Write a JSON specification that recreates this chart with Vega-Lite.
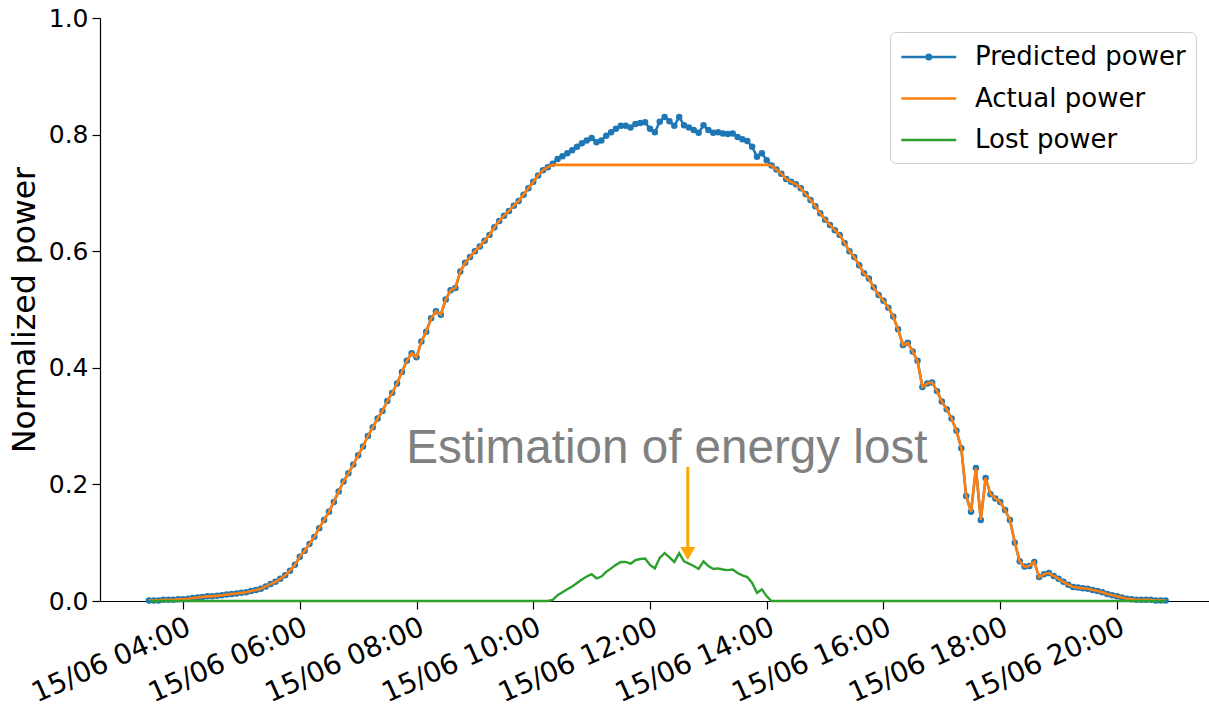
{
"$schema": "https://vega.github.io/schema/vega-lite/v6.json",
"autosize": {"type": "none"},
"padding": {"left": 100, "top": 18, "right": 0, "bottom": 107},
"width": 1109,
"height": 583,
"background": "white",
"config": {"view": {"stroke": null}, "font": "DejaVu Sans",
  "axis": {"grid": false, "domainColor": "black", "domainWidth": 1.2, "tickColor": "black", "tickWidth": 1.2, "tickSize": 8, "labelColor": "black", "labelFont": "DejaVu Sans", "titleFont": "DejaVu Sans", "titleColor": "black", "titleFontWeight": "normal"}},
"datasets": {"d": [
{"t":"2021-06-15T03:25","p":0.001,"a":0.001,"l":0},
{"t":"2021-06-15T03:30","p":0.001,"a":0.001,"l":0},
{"t":"2021-06-15T03:35","p":0.001,"a":0.001,"l":0},
{"t":"2021-06-15T03:40","p":0.002,"a":0.002,"l":0},
{"t":"2021-06-15T03:45","p":0.002,"a":0.002,"l":0},
{"t":"2021-06-15T03:50","p":0.002,"a":0.002,"l":0},
{"t":"2021-06-15T03:55","p":0.003,"a":0.003,"l":0},
{"t":"2021-06-15T04:00","p":0.003,"a":0.003,"l":0},
{"t":"2021-06-15T04:05","p":0.004,"a":0.004,"l":0},
{"t":"2021-06-15T04:10","p":0.005,"a":0.005,"l":0},
{"t":"2021-06-15T04:15","p":0.006,"a":0.006,"l":0},
{"t":"2021-06-15T04:20","p":0.007,"a":0.007,"l":0},
{"t":"2021-06-15T04:25","p":0.008,"a":0.008,"l":0},
{"t":"2021-06-15T04:30","p":0.008,"a":0.008,"l":0},
{"t":"2021-06-15T04:35","p":0.009,"a":0.009,"l":0},
{"t":"2021-06-15T04:40","p":0.010,"a":0.010,"l":0},
{"t":"2021-06-15T04:45","p":0.011,"a":0.011,"l":0},
{"t":"2021-06-15T04:50","p":0.012,"a":0.012,"l":0},
{"t":"2021-06-15T04:55","p":0.013,"a":0.013,"l":0},
{"t":"2021-06-15T05:00","p":0.014,"a":0.014,"l":0},
{"t":"2021-06-15T05:05","p":0.015,"a":0.015,"l":0},
{"t":"2021-06-15T05:10","p":0.017,"a":0.017,"l":0},
{"t":"2021-06-15T05:15","p":0.019,"a":0.019,"l":0},
{"t":"2021-06-15T05:20","p":0.021,"a":0.021,"l":0},
{"t":"2021-06-15T05:25","p":0.025,"a":0.025,"l":0},
{"t":"2021-06-15T05:30","p":0.029,"a":0.029,"l":0},
{"t":"2021-06-15T05:35","p":0.033,"a":0.033,"l":0},
{"t":"2021-06-15T05:40","p":0.038,"a":0.038,"l":0},
{"t":"2021-06-15T05:45","p":0.044,"a":0.044,"l":0},
{"t":"2021-06-15T05:50","p":0.052,"a":0.052,"l":0},
{"t":"2021-06-15T05:55","p":0.062,"a":0.062,"l":0},
{"t":"2021-06-15T06:00","p":0.076,"a":0.076,"l":0},
{"t":"2021-06-15T06:05","p":0.086,"a":0.086,"l":0},
{"t":"2021-06-15T06:10","p":0.098,"a":0.098,"l":0},
{"t":"2021-06-15T06:15","p":0.110,"a":0.110,"l":0},
{"t":"2021-06-15T06:20","p":0.125,"a":0.125,"l":0},
{"t":"2021-06-15T06:25","p":0.139,"a":0.139,"l":0},
{"t":"2021-06-15T06:30","p":0.153,"a":0.153,"l":0},
{"t":"2021-06-15T06:35","p":0.170,"a":0.170,"l":0},
{"t":"2021-06-15T06:40","p":0.188,"a":0.188,"l":0},
{"t":"2021-06-15T06:45","p":0.205,"a":0.205,"l":0},
{"t":"2021-06-15T06:50","p":0.219,"a":0.219,"l":0},
{"t":"2021-06-15T06:55","p":0.234,"a":0.234,"l":0},
{"t":"2021-06-15T07:00","p":0.250,"a":0.250,"l":0},
{"t":"2021-06-15T07:05","p":0.265,"a":0.265,"l":0},
{"t":"2021-06-15T07:10","p":0.283,"a":0.283,"l":0},
{"t":"2021-06-15T07:15","p":0.298,"a":0.298,"l":0},
{"t":"2021-06-15T07:20","p":0.313,"a":0.313,"l":0},
{"t":"2021-06-15T07:25","p":0.326,"a":0.326,"l":0},
{"t":"2021-06-15T07:30","p":0.343,"a":0.343,"l":0},
{"t":"2021-06-15T07:35","p":0.357,"a":0.357,"l":0},
{"t":"2021-06-15T07:40","p":0.373,"a":0.373,"l":0},
{"t":"2021-06-15T07:45","p":0.393,"a":0.393,"l":0},
{"t":"2021-06-15T07:50","p":0.412,"a":0.412,"l":0},
{"t":"2021-06-15T07:55","p":0.425,"a":0.425,"l":0},
{"t":"2021-06-15T08:00","p":0.418,"a":0.418,"l":0},
{"t":"2021-06-15T08:05","p":0.445,"a":0.445,"l":0},
{"t":"2021-06-15T08:10","p":0.462,"a":0.462,"l":0},
{"t":"2021-06-15T08:15","p":0.485,"a":0.485,"l":0},
{"t":"2021-06-15T08:20","p":0.497,"a":0.497,"l":0},
{"t":"2021-06-15T08:25","p":0.491,"a":0.491,"l":0},
{"t":"2021-06-15T08:30","p":0.517,"a":0.517,"l":0},
{"t":"2021-06-15T08:35","p":0.533,"a":0.533,"l":0},
{"t":"2021-06-15T08:40","p":0.537,"a":0.537,"l":0},
{"t":"2021-06-15T08:45","p":0.565,"a":0.565,"l":0},
{"t":"2021-06-15T08:50","p":0.580,"a":0.580,"l":0},
{"t":"2021-06-15T08:55","p":0.590,"a":0.590,"l":0},
{"t":"2021-06-15T09:00","p":0.600,"a":0.600,"l":0},
{"t":"2021-06-15T09:05","p":0.608,"a":0.608,"l":0},
{"t":"2021-06-15T09:10","p":0.618,"a":0.618,"l":0},
{"t":"2021-06-15T09:15","p":0.628,"a":0.628,"l":0},
{"t":"2021-06-15T09:20","p":0.641,"a":0.641,"l":0},
{"t":"2021-06-15T09:25","p":0.652,"a":0.652,"l":0},
{"t":"2021-06-15T09:30","p":0.661,"a":0.661,"l":0},
{"t":"2021-06-15T09:35","p":0.669,"a":0.669,"l":0},
{"t":"2021-06-15T09:40","p":0.678,"a":0.678,"l":0},
{"t":"2021-06-15T09:45","p":0.686,"a":0.686,"l":0},
{"t":"2021-06-15T09:50","p":0.697,"a":0.697,"l":0},
{"t":"2021-06-15T09:55","p":0.708,"a":0.708,"l":0},
{"t":"2021-06-15T10:00","p":0.719,"a":0.719,"l":0},
{"t":"2021-06-15T10:05","p":0.730,"a":0.730,"l":0},
{"t":"2021-06-15T10:10","p":0.739,"a":0.739,"l":0},
{"t":"2021-06-15T10:15","p":0.744,"a":0.744,"l":0},
{"t":"2021-06-15T10:20","p":0.750,"a":0.748,"l":0.002},
{"t":"2021-06-15T10:25","p":0.758,"a":0.748,"l":0.010},
{"t":"2021-06-15T10:30","p":0.763,"a":0.748,"l":0.015},
{"t":"2021-06-15T10:35","p":0.768,"a":0.748,"l":0.020},
{"t":"2021-06-15T10:40","p":0.773,"a":0.748,"l":0.025},
{"t":"2021-06-15T10:45","p":0.779,"a":0.748,"l":0.031},
{"t":"2021-06-15T10:50","p":0.785,"a":0.748,"l":0.037},
{"t":"2021-06-15T10:55","p":0.790,"a":0.748,"l":0.042},
{"t":"2021-06-15T11:00","p":0.794,"a":0.748,"l":0.046},
{"t":"2021-06-15T11:05","p":0.787,"a":0.748,"l":0.039},
{"t":"2021-06-15T11:10","p":0.790,"a":0.748,"l":0.042},
{"t":"2021-06-15T11:15","p":0.798,"a":0.748,"l":0.050},
{"t":"2021-06-15T11:20","p":0.804,"a":0.748,"l":0.056},
{"t":"2021-06-15T11:25","p":0.810,"a":0.748,"l":0.062},
{"t":"2021-06-15T11:30","p":0.815,"a":0.748,"l":0.067},
{"t":"2021-06-15T11:35","p":0.815,"a":0.748,"l":0.067},
{"t":"2021-06-15T11:40","p":0.812,"a":0.748,"l":0.064},
{"t":"2021-06-15T11:45","p":0.818,"a":0.748,"l":0.070},
{"t":"2021-06-15T11:50","p":0.820,"a":0.748,"l":0.072},
{"t":"2021-06-15T11:55","p":0.821,"a":0.748,"l":0.073},
{"t":"2021-06-15T12:00","p":0.810,"a":0.748,"l":0.062},
{"t":"2021-06-15T12:05","p":0.804,"a":0.748,"l":0.056},
{"t":"2021-06-15T12:10","p":0.822,"a":0.748,"l":0.074},
{"t":"2021-06-15T12:15","p":0.830,"a":0.748,"l":0.082},
{"t":"2021-06-15T12:20","p":0.823,"a":0.748,"l":0.075},
{"t":"2021-06-15T12:25","p":0.815,"a":0.748,"l":0.067},
{"t":"2021-06-15T12:30","p":0.830,"a":0.748,"l":0.082},
{"t":"2021-06-15T12:35","p":0.816,"a":0.748,"l":0.068},
{"t":"2021-06-15T12:40","p":0.812,"a":0.748,"l":0.064},
{"t":"2021-06-15T12:45","p":0.808,"a":0.748,"l":0.060},
{"t":"2021-06-15T12:50","p":0.803,"a":0.748,"l":0.055},
{"t":"2021-06-15T12:55","p":0.816,"a":0.748,"l":0.068},
{"t":"2021-06-15T13:00","p":0.808,"a":0.748,"l":0.060},
{"t":"2021-06-15T13:05","p":0.803,"a":0.748,"l":0.055},
{"t":"2021-06-15T13:10","p":0.804,"a":0.748,"l":0.056},
{"t":"2021-06-15T13:15","p":0.802,"a":0.748,"l":0.054},
{"t":"2021-06-15T13:20","p":0.801,"a":0.748,"l":0.053},
{"t":"2021-06-15T13:25","p":0.802,"a":0.748,"l":0.054},
{"t":"2021-06-15T13:30","p":0.796,"a":0.748,"l":0.048},
{"t":"2021-06-15T13:35","p":0.792,"a":0.748,"l":0.044},
{"t":"2021-06-15T13:40","p":0.789,"a":0.748,"l":0.041},
{"t":"2021-06-15T13:45","p":0.779,"a":0.748,"l":0.031},
{"t":"2021-06-15T13:50","p":0.762,"a":0.748,"l":0.014},
{"t":"2021-06-15T13:55","p":0.768,"a":0.748,"l":0.020},
{"t":"2021-06-15T14:00","p":0.756,"a":0.748,"l":0.008},
{"t":"2021-06-15T14:05","p":0.747,"a":0.747,"l":0},
{"t":"2021-06-15T14:10","p":0.740,"a":0.740,"l":0},
{"t":"2021-06-15T14:15","p":0.733,"a":0.733,"l":0},
{"t":"2021-06-15T14:20","p":0.724,"a":0.724,"l":0},
{"t":"2021-06-15T14:25","p":0.719,"a":0.719,"l":0},
{"t":"2021-06-15T14:30","p":0.715,"a":0.715,"l":0},
{"t":"2021-06-15T14:35","p":0.708,"a":0.708,"l":0},
{"t":"2021-06-15T14:40","p":0.698,"a":0.698,"l":0},
{"t":"2021-06-15T14:45","p":0.688,"a":0.688,"l":0},
{"t":"2021-06-15T14:50","p":0.677,"a":0.677,"l":0},
{"t":"2021-06-15T14:55","p":0.665,"a":0.665,"l":0},
{"t":"2021-06-15T15:00","p":0.654,"a":0.654,"l":0},
{"t":"2021-06-15T15:05","p":0.645,"a":0.645,"l":0},
{"t":"2021-06-15T15:10","p":0.636,"a":0.636,"l":0},
{"t":"2021-06-15T15:15","p":0.628,"a":0.628,"l":0},
{"t":"2021-06-15T15:20","p":0.614,"a":0.614,"l":0},
{"t":"2021-06-15T15:25","p":0.600,"a":0.600,"l":0},
{"t":"2021-06-15T15:30","p":0.590,"a":0.590,"l":0},
{"t":"2021-06-15T15:35","p":0.576,"a":0.576,"l":0},
{"t":"2021-06-15T15:40","p":0.562,"a":0.562,"l":0},
{"t":"2021-06-15T15:45","p":0.553,"a":0.553,"l":0},
{"t":"2021-06-15T15:50","p":0.538,"a":0.538,"l":0},
{"t":"2021-06-15T15:55","p":0.525,"a":0.525,"l":0},
{"t":"2021-06-15T16:00","p":0.515,"a":0.515,"l":0},
{"t":"2021-06-15T16:05","p":0.503,"a":0.503,"l":0},
{"t":"2021-06-15T16:10","p":0.488,"a":0.488,"l":0},
{"t":"2021-06-15T16:15","p":0.466,"a":0.466,"l":0},
{"t":"2021-06-15T16:20","p":0.439,"a":0.439,"l":0},
{"t":"2021-06-15T16:25","p":0.443,"a":0.443,"l":0},
{"t":"2021-06-15T16:30","p":0.428,"a":0.428,"l":0},
{"t":"2021-06-15T16:35","p":0.412,"a":0.412,"l":0},
{"t":"2021-06-15T16:40","p":0.367,"a":0.367,"l":0},
{"t":"2021-06-15T16:45","p":0.373,"a":0.373,"l":0},
{"t":"2021-06-15T16:50","p":0.375,"a":0.375,"l":0},
{"t":"2021-06-15T16:55","p":0.360,"a":0.360,"l":0},
{"t":"2021-06-15T17:00","p":0.342,"a":0.342,"l":0},
{"t":"2021-06-15T17:05","p":0.329,"a":0.329,"l":0},
{"t":"2021-06-15T17:10","p":0.313,"a":0.313,"l":0},
{"t":"2021-06-15T17:15","p":0.292,"a":0.292,"l":0},
{"t":"2021-06-15T17:20","p":0.262,"a":0.262,"l":0},
{"t":"2021-06-15T17:25","p":0.180,"a":0.180,"l":0},
{"t":"2021-06-15T17:30","p":0.153,"a":0.153,"l":0},
{"t":"2021-06-15T17:35","p":0.228,"a":0.228,"l":0},
{"t":"2021-06-15T17:40","p":0.139,"a":0.139,"l":0},
{"t":"2021-06-15T17:45","p":0.211,"a":0.211,"l":0},
{"t":"2021-06-15T17:50","p":0.183,"a":0.183,"l":0},
{"t":"2021-06-15T17:55","p":0.176,"a":0.176,"l":0},
{"t":"2021-06-15T18:00","p":0.170,"a":0.170,"l":0},
{"t":"2021-06-15T18:05","p":0.156,"a":0.156,"l":0},
{"t":"2021-06-15T18:10","p":0.139,"a":0.139,"l":0},
{"t":"2021-06-15T18:15","p":0.100,"a":0.100,"l":0},
{"t":"2021-06-15T18:20","p":0.068,"a":0.068,"l":0},
{"t":"2021-06-15T18:25","p":0.059,"a":0.059,"l":0},
{"t":"2021-06-15T18:30","p":0.060,"a":0.060,"l":0},
{"t":"2021-06-15T18:35","p":0.067,"a":0.067,"l":0},
{"t":"2021-06-15T18:40","p":0.041,"a":0.041,"l":0},
{"t":"2021-06-15T18:45","p":0.046,"a":0.046,"l":0},
{"t":"2021-06-15T18:50","p":0.048,"a":0.048,"l":0},
{"t":"2021-06-15T18:55","p":0.043,"a":0.043,"l":0},
{"t":"2021-06-15T19:00","p":0.038,"a":0.038,"l":0},
{"t":"2021-06-15T19:05","p":0.033,"a":0.033,"l":0},
{"t":"2021-06-15T19:10","p":0.028,"a":0.028,"l":0},
{"t":"2021-06-15T19:15","p":0.024,"a":0.024,"l":0},
{"t":"2021-06-15T19:20","p":0.023,"a":0.023,"l":0},
{"t":"2021-06-15T19:25","p":0.022,"a":0.022,"l":0},
{"t":"2021-06-15T19:30","p":0.021,"a":0.021,"l":0},
{"t":"2021-06-15T19:35","p":0.019,"a":0.019,"l":0},
{"t":"2021-06-15T19:40","p":0.017,"a":0.017,"l":0},
{"t":"2021-06-15T19:45","p":0.015,"a":0.015,"l":0},
{"t":"2021-06-15T19:50","p":0.012,"a":0.012,"l":0},
{"t":"2021-06-15T19:55","p":0.010,"a":0.010,"l":0},
{"t":"2021-06-15T20:00","p":0.008,"a":0.008,"l":0},
{"t":"2021-06-15T20:05","p":0.006,"a":0.006,"l":0},
{"t":"2021-06-15T20:10","p":0.004,"a":0.004,"l":0},
{"t":"2021-06-15T20:15","p":0.003,"a":0.003,"l":0},
{"t":"2021-06-15T20:20","p":0.002,"a":0.002,"l":0},
{"t":"2021-06-15T20:25","p":0.002,"a":0.002,"l":0},
{"t":"2021-06-15T20:30","p":0.002,"a":0.002,"l":0},
{"t":"2021-06-15T20:35","p":0.002,"a":0.002,"l":0},
{"t":"2021-06-15T20:40","p":0.001,"a":0.001,"l":0},
{"t":"2021-06-15T20:45","p":0.001,"a":0.001,"l":0},
{"t":"2021-06-15T20:50","p":0.001,"a":0.001,"l":0}
]},
"layer": [
{"data": {"name": "d"},
 "mark": {"type": "line", "strokeWidth": 2.5},
 "encoding": {
  "x": {"field": "t", "type": "temporal", "title": null,
    "scale": {"domain": [{"year": 2021, "month": 6, "date": 15, "hours": 2, "minutes": 34, "seconds": 39}, {"year": 2021, "month": 6, "date": 15, "hours": 21, "minutes": 34, "seconds": 36}]},
    "axis": {"values": [{"year": 2021, "month": 6, "date": 15, "hours": 4}, {"year": 2021, "month": 6, "date": 15, "hours": 6}, {"year": 2021, "month": 6, "date": 15, "hours": 8}, {"year": 2021, "month": 6, "date": 15, "hours": 10}, {"year": 2021, "month": 6, "date": 15, "hours": 12}, {"year": 2021, "month": 6, "date": 15, "hours": 14}, {"year": 2021, "month": 6, "date": 15, "hours": 16}, {"year": 2021, "month": 6, "date": 15, "hours": 18}, {"year": 2021, "month": 6, "date": 15, "hours": 20}],
      "format": "%d/%m %H:%M", "labelAngle": -24, "labelAlign": "right", "labelBaseline": "top", "labelFontSize": 28, "labelPadding": 4, "labelFlush": false, "labelOverlap": false, "labelBound": false}},
  "y": {"field": "p", "type": "quantitative", "title": "Normalized power",
    "scale": {"domain": [0, 1], "nice": false, "zero": false},
    "axis": {"values": [0, 0.2, 0.4, 0.6, 0.8, 1.0], "format": ".1f", "labelFontSize": 25, "labelPadding": 4, "titleFontSize": 31.5, "titlePadding": 7}},
  "color": {"datum": "Predicted power", "type": "nominal",
    "scale": {"domain": ["Predicted power", "Actual power", "Lost power"], "range": ["#1f77b4", "#ff7f0e", "#2ca02c"]},
    "legend": {"title": null, "orient": "none", "legendX": 790, "legendY": 14, "symbolType": "M-1,0L3,0", "symbolSize": 756.25, "symbolStrokeWidth": 2.5, "labelFontSize": 26, "labelFont": "DejaVu Sans", "labelColor": "black", "labelLimit": 0, "labelOffset": 45, "padding": 10, "rowPadding": 13.5, "fillColor": "white", "strokeColor": "#cccccc", "cornerRadius": 6,
      "encode": {"symbols": {"update": {"shape": {"signal": "datum.label === 'Predicted power' ? 'M-1,0L3,0M1.164,0A0.164,0.164,0,1,1,0.836,0A0.164,0.164,0,1,1,1.164,0Z' : 'M-1,0L3,0'"}}}}}}
 }},
{"data": {"name": "d"},
 "mark": {"type": "point", "filled": true, "size": 42, "opacity": 1, "color": "#1f77b4"},
 "encoding": {"x": {"field": "t", "type": "temporal", "title": null}, "y": {"field": "p", "type": "quantitative", "title": "Normalized power"}}},
{"data": {"name": "d"},
 "mark": {"type": "line", "strokeWidth": 2.6},
 "encoding": {"x": {"field": "t", "type": "temporal", "title": null}, "y": {"field": "a", "type": "quantitative", "title": "Normalized power"}, "color": {"datum": "Actual power", "type": "nominal"}}},
{"data": {"name": "d"},
 "mark": {"type": "line", "strokeWidth": 2.4},
 "encoding": {"x": {"field": "t", "type": "temporal", "title": null}, "y": {"field": "l", "type": "quantitative", "title": "Normalized power"}, "color": {"datum": "Lost power", "type": "nominal"}}},
{"mark": {"type": "rule", "color": "black", "strokeWidth": 1.2},
 "encoding": {"y": {"datum": 1, "type": "quantitative", "title": "Normalized power"}}},
{"data": {"values": [{"t": "2021-06-15T12:17:18", "v": 0.237, "label": "Estimation of energy lost"}]},
 "mark": {"type": "text", "font": "Liberation Sans", "fontSize": 47.6, "color": "#808080", "align": "center", "baseline": "alphabetic"},
 "encoding": {"x": {"field": "t", "type": "temporal", "title": null}, "y": {"field": "v", "type": "quantitative", "title": "Normalized power"}, "text": {"field": "label"}}},
{"data": {"values": [{"t": "2021-06-15T12:38:50", "v": 0.230, "v2": 0.09}]},
 "mark": {"type": "rule", "color": "#FFA500", "strokeWidth": 3},
 "encoding": {"x": {"field": "t", "type": "temporal", "title": null}, "y": {"field": "v", "type": "quantitative", "title": "Normalized power"}, "y2": {"field": "v2"}}},
{"data": {"values": [{"t": "2021-06-15T12:38:50", "v": 0.0815}]},
 "mark": {"type": "point", "shape": "triangle-down", "filled": true, "size": 225, "opacity": 1, "color": "#FFA500"},
 "encoding": {"x": {"field": "t", "type": "temporal", "title": null}, "y": {"field": "v", "type": "quantitative", "title": "Normalized power"}}}
]
}
